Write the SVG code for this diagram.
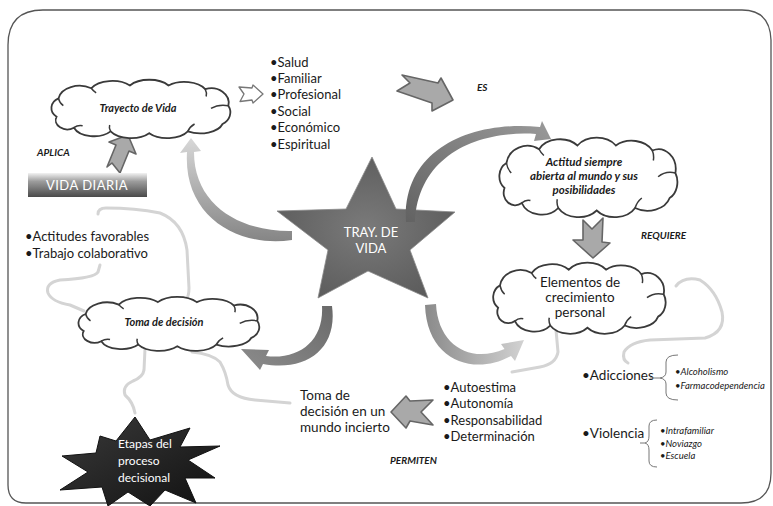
<svg xmlns="http://www.w3.org/2000/svg" xmlns:xlink="http://www.w3.org/1999/xlink" width="773" height="506" viewBox="0 0 773 506">
<style>
text{font-family:Lato,"Liberation Sans",sans-serif;fill:#1a1a1a}
.cl{fill:#fff;stroke:#3a3a3a;stroke-width:1.8;vector-effect:non-scaling-stroke}
.ci{fill:none;stroke:#3a3a3a;stroke-width:1.5;vector-effect:non-scaling-stroke}
.bi{font-weight:bold;font-style:italic}
.lbl{font-weight:bold;font-style:italic;font-size:10px}
.lst{font-size:13px}
.sm{font-size:9.5px;font-style:italic}
.wt{fill:#fff}
.pale{fill:none;stroke:#d4d4d4;stroke-width:3;stroke-linecap:round;stroke-linejoin:round}
.blk{fill:#a9a9a9;stroke:#666;stroke-width:1.6;stroke-linejoin:round}
.brace{fill:none;stroke:#777;stroke-width:1}
</style>
<defs>
<g id="cloud">
<path class="cl" d="M12,40 A14 12 0 0 1 14,20 A22 16 0 0 1 48,9 A24 14 0 0 1 88,6 A24 14 0 0 1 128,6 A24 14 0 0 1 166,10 A18 16 0 0 1 190,28 A14 14 0 0 1 184,48 A24 14 0 0 1 148,56 A24 14 0 0 1 108,58 A24 14 0 0 1 68,56 A22 14 0 0 1 30,52 A12 10 0 0 1 12,40 Z"/>
<path class="ci" d="M14,20 Q15,25 19,28 M166,10 Q168,14 167,18 M190,28 Q180,26 172,31 M148,56 Q150,51 155,48 M68,56 Q66,52 67,49 M30,52 Q34,49 39,50 M48,9 Q50,12 53,14"/>
</g>
<linearGradient id="gBox" x1="0" y1="0" x2="0" y2="1">
<stop offset="0" stop-color="#f2f2f2"/><stop offset="0.35" stop-color="#9c9c9c"/><stop offset="1" stop-color="#4a4a4a"/>
</linearGradient>
<radialGradient id="gStar" cx="0.5" cy="0.5" r="0.6">
<stop offset="0" stop-color="#7a7a7a"/><stop offset="1" stop-color="#5a5a5a"/>
</radialGradient>
<linearGradient id="gBoom" x1="0" y1="0" x2="1" y2="1">
<stop offset="0" stop-color="#3a3a3a"/><stop offset="1" stop-color="#111"/>
</linearGradient>
<linearGradient id="gA" x1="0" y1="0" x2="0" y2="1">
<stop offset="0" stop-color="#d8d8d8"/><stop offset="1" stop-color="#858585"/>
</linearGradient>
<linearGradient id="gB" x1="0" y1="1" x2="1" y2="0">
<stop offset="0" stop-color="#626262"/><stop offset="1" stop-color="#9a9a9a"/>
</linearGradient>
<linearGradient id="gC" x1="1" y1="0" x2="0" y2="1">
<stop offset="0" stop-color="#6a6a6a"/><stop offset="1" stop-color="#8c8c8c"/>
</linearGradient>
<linearGradient id="gD" x1="0" y1="0" x2="1" y2="0">
<stop offset="0" stop-color="#8a8a8a"/><stop offset="1" stop-color="#d2d2d2"/>
</linearGradient>
</defs>

<path id="frame" d="M43,10 L742,10 Q770,10 771,40 L771,473 Q771,503 741,503 L26,503 Q8,503 8,485 L8,45 Q8,10 43,10 Z" fill="#fff" stroke="#555" stroke-width="1.3"/>

<g id="pale-lines">
<path class="pale" d="M98,214 Q98,208 106,208 Q135,208 160,213 Q183,222 187,250 L189,288 Q189,296 186,300"/>
<path class="pale" d="M100,265 L98,272 Q95,278 60,280 Q45,283 48,293 Q52,302 70,305 L84,311"/>
<path class="pale" d="M145,349 L144,370 Q143,377 133,381 Q122,386 125,395 Q133,402 135,413"/>
<path class="pale" d="M192,352 Q212,354 220,362 Q226,372 228,385 Q232,398 255,400 L290,403"/>
<path class="pale" d="M676,286 Q684,276 700,280 Q716,290 722,312 Q726,332 705,338 L650,340 Q630,342 624,352 Q622,360 628,363"/>
<path class="pale" d="M556,330 L558,352 Q556,364 540,367 L512,372"/>
</g>

<g id="star">
<polygon points="372,157 396,209 455,212 410,250 428,298 368,271 318,298 328,250 277,211 346,209" fill="url(#gStar)" stroke="#8a8a8a" stroke-width="0.8"/>
<text class="wt" x="371" y="237" font-size="13" text-anchor="middle">TRAY. DE</text>
<text class="wt" x="371" y="253" font-size="13" text-anchor="middle">VIDA</text>
</g>

<g id="connectors">
<path id="arrow-a" d="M292,240 C240,248 183,218 187,152 L180,153 L191,138 L201,151 L194,152 C194,205 240,232 292,231 Z" fill="url(#gA)"/>
<path id="arrow-b" d="M406,222 C402,150 470,120 540,127 L542,121 L551,139 L534,141 L536,134 C478,130 418,155 415,222 Z" fill="url(#gB)"/>
<path id="arrow-c" d="M332,306 C338,350 305,372 263,364 L260,370 L241,349 L269,350 L266,356 C300,360 324,340 322,306 Z" fill="url(#gC)"/>
<path id="arrow-d" d="M425,305 C427,362 475,376 511,356 L515,361 L524,340 L501,344 L504.5,349 C470,364 438,345 436,304 Z" fill="url(#gD)"/>
<polygon id="arrow-list" points="239,87 252,88 253,85 263,94 253,103 252,100 240,101.5 244,94" fill="#fff" stroke="#777" stroke-width="1.3" stroke-linejoin="round"/>
<polygon id="arrow-es" class="blk" points="402,75 438,83 441,78 453,100 432,111 432,103 397,91 410,83"/>
<polygon id="arrow-req" class="blk" points="583,220 592,229 603,218 602,242 610,243 593,258 573,240 583,240"/>
<polygon id="arrow-perm" class="blk" points="391,412 406,396 410,401 433,400 421,412 433,425 410,421 406,428"/>
<polygon id="arrow-aplica" class="blk" points="128,135 136,154 129,151 120,173 112,163 107,167 116,145 109,142"/>
</g>

<g id="node-trayecto">
<use xlink:href="#cloud" transform="translate(45,80) scale(0.965,0.917)"/>
<text class="bi" x="138" y="112" font-size="11" text-anchor="middle">Trayecto de Vida</text>
</g>

<g id="node-actitud">
<use xlink:href="#cloud" transform="translate(493,138) scale(0.96,1.25)"/>
<text class="bi" font-size="11.5" text-anchor="middle"><tspan x="584" y="166">Actitud siempre</tspan><tspan x="584" y="180">abierta al mundo y sus</tspan><tspan x="584" y="194">posibilidades</tspan></text>
</g>

<g id="node-elementos">
<use xlink:href="#cloud" transform="translate(487,263) scale(0.93,1.117)"/>
<text font-size="13.5" text-anchor="middle"><tspan x="580" y="287">Elementos de</tspan><tspan x="580" y="302">crecimiento</tspan><tspan x="580" y="317">personal</tspan></text>
</g>

<g id="node-toma">
<use xlink:href="#cloud" transform="translate(72,297) scale(0.975,0.85)"/>
<text class="bi" x="164" y="326" font-size="11" text-anchor="middle">Toma de decisión</text>
</g>

<g id="node-vida-diaria">
<rect x="28" y="173" width="119" height="24" fill="url(#gBox)"/>
<text class="wt" x="87" y="190" font-size="13" text-anchor="middle" letter-spacing="0.5">VIDA DIARIA</text>
</g>

<g id="node-etapas">
<polygon points="100,436 116,441 135,417 150,440 190,428 180,447 220,446 188,460 215,478 185,478 196,503 165,490 150,506 128,492 108,506 102,487 60,490 88,472 62,456 96,453" fill="url(#gBoom)" stroke="#111" stroke-width="1"/>
<text class="wt" font-size="12"><tspan x="118" y="448">Etapas del</tspan><tspan x="118" y="465">proceso</tspan><tspan x="118" y="482">decisional</tspan></text>
</g>

<g id="list-areas">
<text class="lst"><tspan x="270" y="66.5">•Salud</tspan><tspan x="270" y="82.9">•Familiar</tspan><tspan x="270" y="99.3">•Profesional</tspan><tspan x="270" y="115.7">•Social</tspan><tspan x="270" y="132.1">•Económico</tspan><tspan x="270" y="148.5">•Espiritual</tspan></text>
</g>

<g id="list-actitudes">
<text class="lst"><tspan x="25" y="241">•Actitudes favorables</tspan><tspan x="25" y="258">•Trabajo colaborativo</tspan></text>
</g>

<g id="node-toma-incierto">
<text font-size="13.5"><tspan x="300" y="400">Toma de</tspan><tspan x="300" y="416">decisión en un</tspan><tspan x="300" y="432">mundo incierto</tspan></text>
</g>

<g id="list-valores">
<text class="lst"><tspan x="443" y="392">•Autoestima</tspan><tspan x="443" y="408">•Autonomía</tspan><tspan x="443" y="425">•Responsabilidad</tspan><tspan x="443" y="441">•Determinación</tspan></text>
</g>

<g id="node-adicciones">
<text x="582" y="380" font-size="13.5">•Adicciones</text>
<path class="brace" d="M650,378 L660,378 M678,355 Q666,355 666,362 L666,372 Q666,377 660,378 Q666,379 666,384 L666,393 Q666,400 678,400"/>
<text class="sm"><tspan x="675" y="375">•Alcoholismo</tspan><tspan x="675" y="389">•Farmacodependencia</tspan></text>
</g>

<g id="node-violencia">
<text x="582" y="438" font-size="13.5">•Violencia</text>
<path class="brace" d="M640,443 L645,443 M657,420 Q649,420 649,426 L649,436 Q649,442 645,443 Q649,444 649,450 L649,461 Q649,467 657,467"/>
<text class="sm"><tspan x="660" y="434">•Intrafamiliar</tspan><tspan x="660" y="447">•Noviazgo</tspan><tspan x="660" y="459">•Escuela</tspan></text>
</g>

<g id="labels">
<text class="lbl" x="477" y="91">ES</text>
<text class="lbl" x="37" y="156">APLICA</text>
<text class="lbl" x="641" y="239">REQUIERE</text>
<text class="lbl" x="390" y="464">PERMITEN</text>
</g>
</svg>
